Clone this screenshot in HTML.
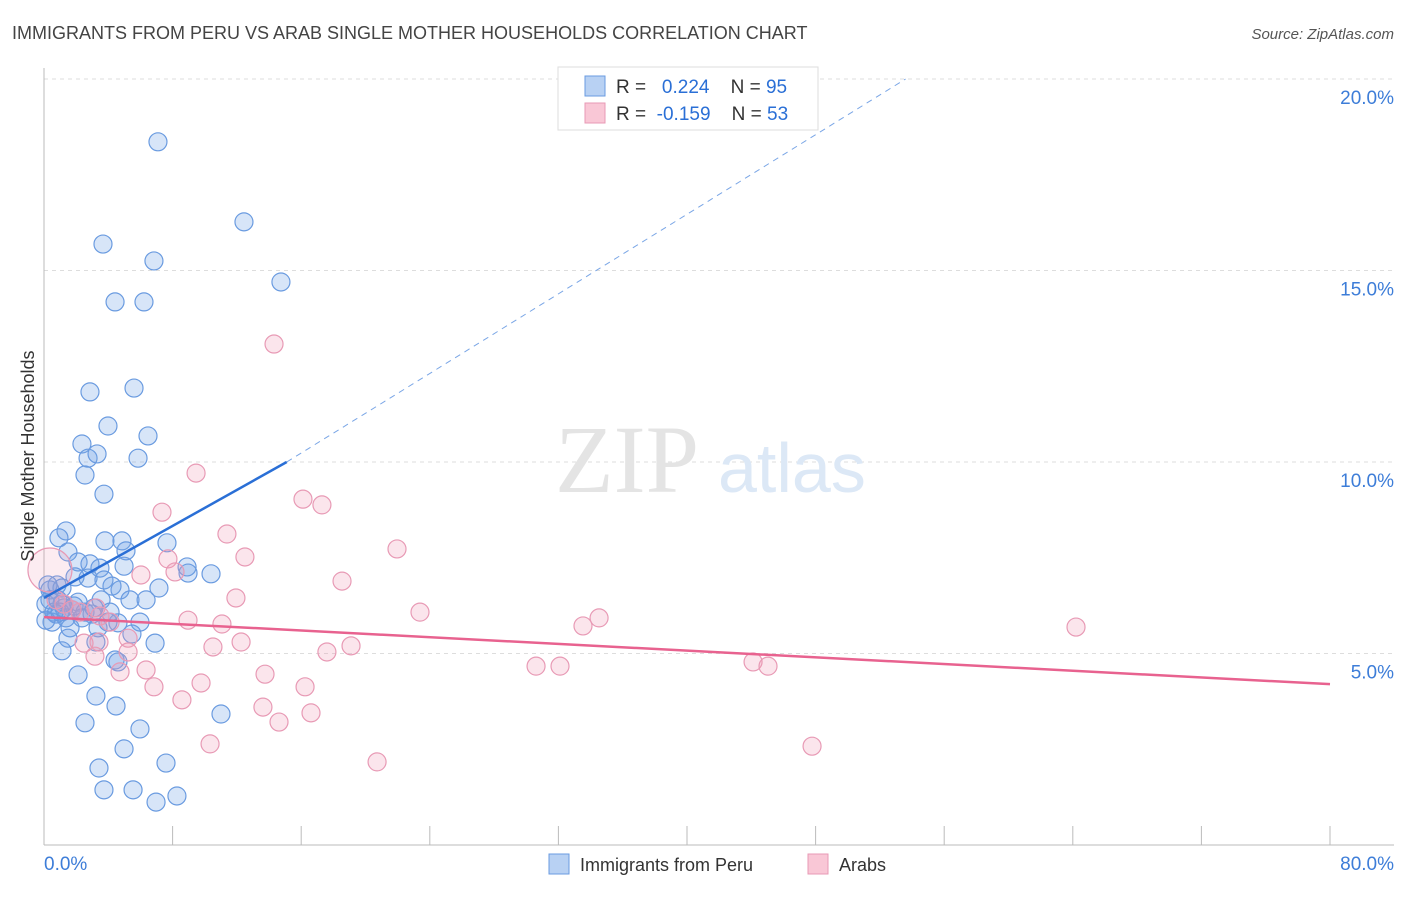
<!DOCTYPE html>
<html><head><meta charset="utf-8"><style>
body{margin:0;background:#fff;font-family:"Liberation Sans",sans-serif;}
</style></head><body>
<svg id="chart" width="1406" height="892" xmlns="http://www.w3.org/2000/svg" style="font-family:'Liberation Sans',sans-serif">
<text x="12" y="39" font-size="18" fill="#444">IMMIGRANTS FROM PERU VS ARAB SINGLE MOTHER HOUSEHOLDS CORRELATION CHART</text>
<text x="1394" y="39" font-size="15" fill="#555" text-anchor="end" font-style="italic">Source: ZipAtlas.com</text>
<g id="grid"></g>
<g><text x="555" y="492" font-size="96" fill="#e4e4e4" font-family="Liberation Serif,serif">ZIP</text><text x="718" y="492" font-size="70" fill="#dce8f6">atlas</text></g>
<g id="marks"></g>
<text transform="translate(34,456) rotate(-90)" font-size="18" fill="#333" text-anchor="middle">Single Mother Households</text>
<g>
<rect x="558" y="67" width="260" height="63" fill="#fff" stroke="#ddd"/>
<rect x="585" y="76" width="20" height="20" fill="#b8d1f3" stroke="#6a9be0"/>
<rect x="585" y="103" width="20" height="20" fill="#f9c7d6" stroke="#e89ab5"/>
<text x="616" y="93" font-size="19" fill="#333" xml:space="preserve">R =  <tspan fill="#2a6fd6"> 0.224</tspan>    N = <tspan fill="#2a6fd6">95</tspan></text>
<text x="616" y="120" font-size="19" fill="#333" xml:space="preserve">R =  <tspan fill="#2a6fd6">-0.159</tspan>    N = <tspan fill="#2a6fd6">53</tspan></text>
</g>
<g>
<rect x="549" y="854" width="20" height="20" fill="#b8d1f3" stroke="#6a9be0"/>
<text x="580" y="871" font-size="18" fill="#333">Immigrants from Peru</text>
<rect x="808" y="854" width="20" height="20" fill="#f9c7d6" stroke="#e89ab5"/>
<text x="839" y="871" font-size="18" fill="#333">Arabs</text>
</g>
</svg>
<script>
const blueX=[7.09,12.44,3.67,6.84,14.74,4.42,6.22,2.86,5.60,3.98,6.47,2.36,2.74,3.30,5.85,2.55,3.73,1.37,0.93,3.79,4.85,5.10,7.65,1.49,2.12,2.86,3.48,4.98,8.90,10.39,8.96,1.93,2.74,3.73,4.23,4.73,7.15,0.81,0.37,1.12,0.37,1.12,2.12,3.55,5.35,6.35,1.74,2.55,0.62,1.24,2.99,3.98,4.60,5.97,0.50,1.62,3.36,5.47,1.49,6.91,3.23,1.12,4.42,4.60,2.12,3.23,4.48,11.01,2.55,5.97,4.98,7.59,3.42,3.73,5.54,6.97,8.27,0.12,0.25,0.75,1.37,2.36,0.12,1.87,0.87,4.11,1.00,3.11];
const blueY=[18.36,16.27,15.69,15.25,14.70,14.18,14.18,11.83,11.93,10.94,10.68,10.47,10.10,10.21,10.10,9.66,9.16,8.20,8.02,7.94,7.94,7.68,7.89,7.65,7.39,7.34,7.23,7.28,7.26,7.08,7.10,7.00,6.97,6.92,6.76,6.66,6.71,6.79,6.66,6.71,6.40,6.29,6.34,6.40,6.40,6.40,6.14,6.08,6.08,6.19,6.03,5.82,5.80,5.82,5.82,5.67,5.67,5.51,5.40,5.27,5.30,5.07,4.83,4.78,4.44,3.89,3.63,3.42,3.19,3.03,2.51,2.14,2.01,1.44,1.44,1.12,1.28,6.29,6.79,6.03,5.93,5.93,5.87,6.24,6.40,6.08,6.08,6.19];
const pinkX=[0.37,14.31,9.46,16.11,17.29,7.34,11.38,12.50,21.96,7.71,8.15,6.03,18.54,11.94,23.39,3.23,8.96,11.07,34.53,33.53,64.20,5.23,12.26,19.10,10.51,2.49,3.42,17.60,5.23,3.17,30.61,32.10,44.11,45.04,6.35,4.73,13.75,9.77,16.24,6.84,8.58,13.62,16.61,14.62,10.33,47.78,20.72,1.74,0.75,1.24,2.24,3.48,4.11];
const pinkY=[7.18,13.08,9.71,9.03,8.88,8.69,8.12,7.52,7.73,7.47,7.13,7.05,6.89,6.45,6.08,6.19,5.87,5.77,5.93,5.72,5.69,5.40,5.30,5.20,5.17,5.27,5.30,5.04,5.04,4.93,4.67,4.67,4.78,4.67,4.57,4.52,4.46,4.23,4.13,4.13,3.79,3.60,3.45,3.21,2.64,2.58,2.17,6.14,6.40,6.29,6.08,5.98,5.82];
const yTicks=[5,10,15,20];
const yTickLabels=["5.0%","10.0%","15.0%","20.0%"];
const blueTrend=[[0,6.45],[15.1,10.0],[53.6,20.0]];
const pinkTrend=[[0,5.95],[80,4.2]];
const NS="http://www.w3.org/2000/svg";
const X=v=>44+v*1286/80, Y=v=>845-v*38.3;
function mk(t,a,p){const e=document.createElementNS(NS,t);for(const k in a)e.setAttribute(k,a[k]);p.appendChild(e);return e;}
const g=document.getElementById('grid'), m=document.getElementById('marks');
yTicks.forEach((t,i)=>{
 const l=mk('line',{x1:44,x2:1394,y1:Y(t),y2:Y(t),stroke:'#ddd','stroke-dasharray':'4,4'},g);
 
 
 const tx=mk('text',{x:1394,y:Y(t)+25,'font-size':19,fill:'#3d7dd8','text-anchor':'end'},g);
 tx.textContent=yTickLabels[i];
 
 
});
mk('line',{x1:44,x2:44,y1:68,y2:845,stroke:'#bbb'},g);
mk('line',{x1:44,x2:1394,y1:845,y2:845,stroke:'#bbb'},g);
for(let i=1;i<=10;i++){mk('line',{x1:X(i*8),x2:X(i*8),y1:826,y2:845,stroke:'#bbb'},g);}
const x0=mk('text',{x:44,y:870,'font-size':19,fill:'#3d7dd8'},g);x0.textContent='0.0%';


const x1=mk('text',{x:1394,y:870,'font-size':19,fill:'#3d7dd8','text-anchor':'end'},g);x1.textContent='80.0%';


blueX.forEach((v,i)=>{const c=mk('circle',{cx:X(v),cy:Y(blueY[i]),r:9,fill:'rgba(110,160,230,0.28)',stroke:'#6a9be0','stroke-width':1.2},m);
 
 });
pinkX.forEach((v,i)=>{const c=mk('circle',{cx:X(v),cy:Y(pinkY[i]),r:i==0?22:9,fill:i==0?'rgba(240,150,180,0.18)':'rgba(240,150,180,0.25)',stroke:'#e89ab5','stroke-width':1.2},m);
 
 });
let l=mk('line',{x1:X(blueTrend[0][0]),y1:Y(blueTrend[0][1]),x2:X(blueTrend[1][0]),y2:Y(blueTrend[1][1]),stroke:'#2a6fd6','stroke-width':2.5},m);


l=mk('line',{x1:X(blueTrend[1][0]),y1:Y(blueTrend[1][1]),x2:X(blueTrend[2][0]),y2:Y(blueTrend[2][1]),stroke:'#7aa6e6','stroke-width':1,'stroke-dasharray':'6,5'},m);


l=mk('line',{x1:X(pinkTrend[0][0]),y1:Y(pinkTrend[0][1]),x2:X(pinkTrend[1][0]),y2:Y(pinkTrend[1][1]),stroke:'#e8628f','stroke-width':2.5},m);


</script>
</body></html>
